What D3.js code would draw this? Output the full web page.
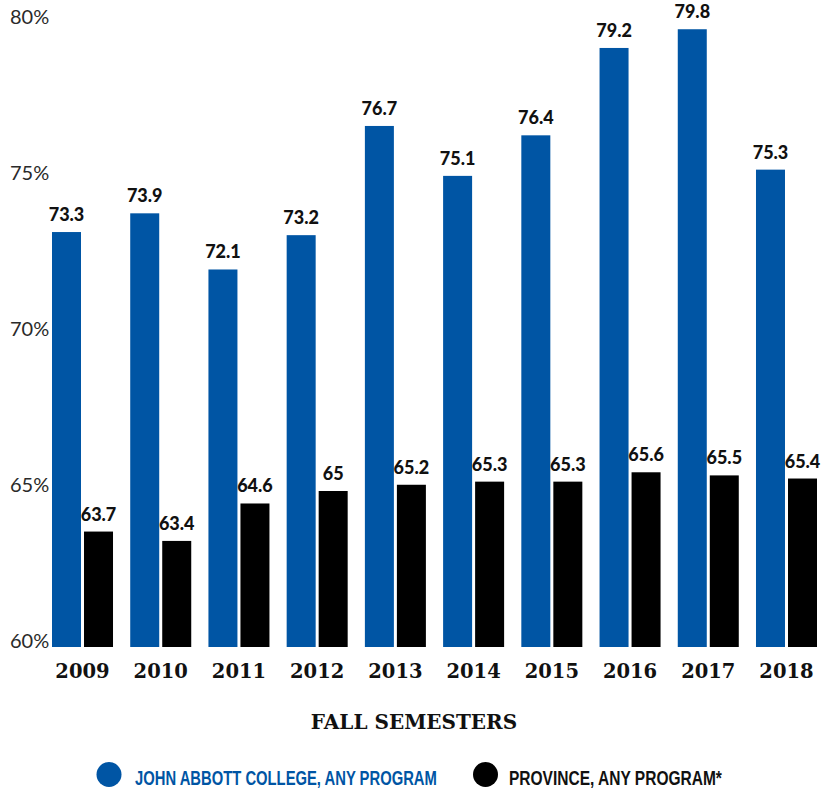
<!DOCTYPE html>
<html>
<head>
<meta charset="utf-8">
<script src="https://cdn.jsdelivr.net/npm/d3@7"></script>
<style>
  html, body { margin: 0; padding: 0; background: #fff; }
  svg { display: block; }
</style>
</head>
<body>
<svg id="chart" width="832" height="794"></svg>
<script>
const years = ["2009","2010","2011","2012","2013","2014","2015","2016","2017","2018"];
const jacValues = [73.3, 73.9, 72.1, 73.2, 76.7, 75.1, 76.4, 79.2, 79.8, 75.3];
const provValues = [63.7, 63.4, 64.6, 65, 65.2, 65.3, 65.3, 65.6, 65.5, 65.4];
const yTicks = [60, 65, 70, 75, 80];
const seriesKeys = ["jac", "prov"];
const seriesNames = ["JOHN ABBOTT COLLEGE, ANY PROGRAM", "PROVINCE, ANY PROGRAM*"];
const seriesColors = ["#0055a4", "#000000"];
const xTitle = "FALL SEMESTERS";

const data = years.map((y, i) => ({ year: y, jac: jacValues[i], prov: provValues[i] }));

const svg = d3.select("#chart");

const x0 = d3.scaleBand().domain(years).range([52, 817]).paddingInner(0.22).paddingOuter(0);
const x1 = d3.scaleBand().domain(seriesKeys).range([0, x0.bandwidth()]).paddingInner(0.094).paddingOuter(0);
const y = d3.scaleLinear().domain([60, 80]).range([647, 23]);
const color = d3.scaleOrdinal().domain(seriesKeys).range(seriesColors);

// Y axis labels
const yAxis = d3.axisLeft(y).tickValues(yTicks).tickFormat(d => d + "%").tickSize(0);
const yg = svg.append("g").call(yAxis);
yg.select(".domain").remove();
yg.selectAll("text")
  .attr("x", 10).attr("dy", null).attr("text-anchor", "start")
  .attr("dominant-baseline", "alphabetic")
  .style("font-family", "Lato, 'Open Sans', sans-serif")
  .style("font-weight", 400)
  .style("font-size", "20px")
  .style("fill", "#2a2a2a");

// Bars
const groups = svg.append("g").selectAll("g.grp")
  .data(data).join("g").attr("class", "grp")
  .attr("transform", d => `translate(${x0(d.year)},0)`);

groups.selectAll("rect")
  .data(d => seriesKeys.map(k => ({ key: k, value: d[k] })))
  .join("rect")
  .attr("x", d => x1(d.key))
  .attr("width", x1.bandwidth())
  .attr("y", d => y(d.value))
  .attr("height", d => y(60) - y(d.value))
  .attr("fill", d => color(d.key));

groups.selectAll("text.val")
  .data(d => seriesKeys.map(k => ({ key: k, value: d[k] })))
  .join("text").attr("class", "val")
  .attr("x", d => x1(d.key) + x1.bandwidth() / 2)
  .attr("y", d => y(d.value) - 11)
  .attr("text-anchor", "middle")
  .style("font-family", "Lato, 'Open Sans', sans-serif")
  .style("font-weight", 900)
  .style("font-size", "18px")
  .style("fill", "#111")
  .text(d => String(d.value));

// X axis labels
const xAxis = d3.axisBottom(x0).tickSize(0).tickPadding(0);
const xg = svg.append("g").attr("transform", "translate(0,678)").call(xAxis);
xg.select(".domain").remove();
xg.selectAll("text")
  .attr("y", 0).attr("dy", null)
  .style("font-family", "'DejaVu Serif', serif")
  .style("font-weight", "bold")
  .style("font-size", "19.5px")
  .style("fill", "#111");

// X title
svg.append("text")
  .attr("x", 414).attr("y", 729)
  .attr("text-anchor", "middle")
  .style("font-family", "'DejaVu Serif', serif")
  .style("font-weight", "bold")
  .style("font-size", "20px")
  .style("fill", "#111")
  .text(xTitle);

// Legend
const legendX = [109, 485.5];
const legendTextX = [135, 509];
const legendW = [302, 213];
const lg = svg.append("g").selectAll("g").data(seriesKeys).join("g");
lg.append("circle")
  .attr("cx", (d, i) => legendX[i]).attr("cy", 774.5).attr("r", 12.5)
  .attr("fill", d => color(d));
lg.append("text")
  .style("font-family", "'Liberation Sans', Arial, sans-serif")
  .style("font-weight", "bold")
  .style("font-size", "21px")
  .style("fill", d => d === "jac" ? "#0055a4" : "#111")
  .text((d, i) => seriesNames[i])
  .each(function(d, i) {
    const w = this.getComputedTextLength();
    const sx = legendW[i] / w;
    d3.select(this).attr("transform", `translate(${legendTextX[i]},785) scale(${sx},1)`);
  });
</script>
</body>
</html>
